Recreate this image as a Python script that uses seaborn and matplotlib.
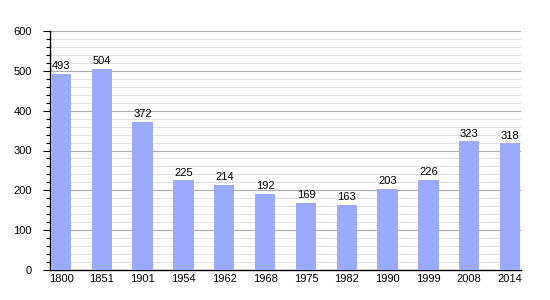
import matplotlib
matplotlib.use("Agg")
import matplotlib.pyplot as plt
import seaborn as sns
import pandas as pd
from matplotlib.ticker import MultipleLocator

years = ["1800", "1851", "1901", "1954", "1962", "1968", "1975", "1982", "1990", "1999", "2008", "2014"]
population = [493, 504, 372, 225, 214, 192, 169, 163, 203, 226, 323, 318]

df = pd.DataFrame({"year": years, "pop": population})

sns.set_style("white")
plt.rcParams["font.family"] = ["Liberation Sans", "DejaVu Sans"]
plt.rcParams["text.color"] = "black"
plt.rcParams["xtick.color"] = "black"
plt.rcParams["ytick.color"] = "black"

fig = plt.figure(figsize=(5.5, 3.0), dpi=100)
ax = fig.add_axes([50/550, 30/300, 471/550, 239/300])

sns.barplot(data=df, x="year", y="pop", color="#99aaff", saturation=1, width=0.5,
            linewidth=0, ax=ax, zorder=3)

ax.set_ylim(0, 600)
ax.set_xlim(-0.27, 11.27)
ax.yaxis.set_major_locator(MultipleLocator(100))
ax.yaxis.set_minor_locator(MultipleLocator(20))
ax.grid(which="major", axis="y", color="#aaaaaa", linewidth=0.8, zorder=0)
ax.grid(which="minor", axis="y", color="#e0e0e0", linewidth=0.8, zorder=0)
ax.set_axisbelow(True)

for s in ["top", "right"]:
    ax.spines[s].set_visible(False)
ax.spines["left"].set_color("black")
ax.spines["bottom"].set_color("black")
ax.spines["left"].set_linewidth(1)
ax.spines["bottom"].set_linewidth(1)

ax.tick_params(axis="y", which="major", length=5, width=0.8, color="black", labelsize=8, pad=8, left=True, labelcolor="black")
ax.tick_params(axis="y", which="minor", length=3, width=0.8, color="black", left=True)
ax.tick_params(axis="x", length=0, labelsize=8, pad=3, labelcolor="black")

for c in ax.containers:
    ax.bar_label(c, labels=[str(v) for v in population], padding=2, fontsize=8, color="black")

ax.set_xlabel("")
ax.set_ylabel("")

fig.savefig("out.png", dpi=100)
